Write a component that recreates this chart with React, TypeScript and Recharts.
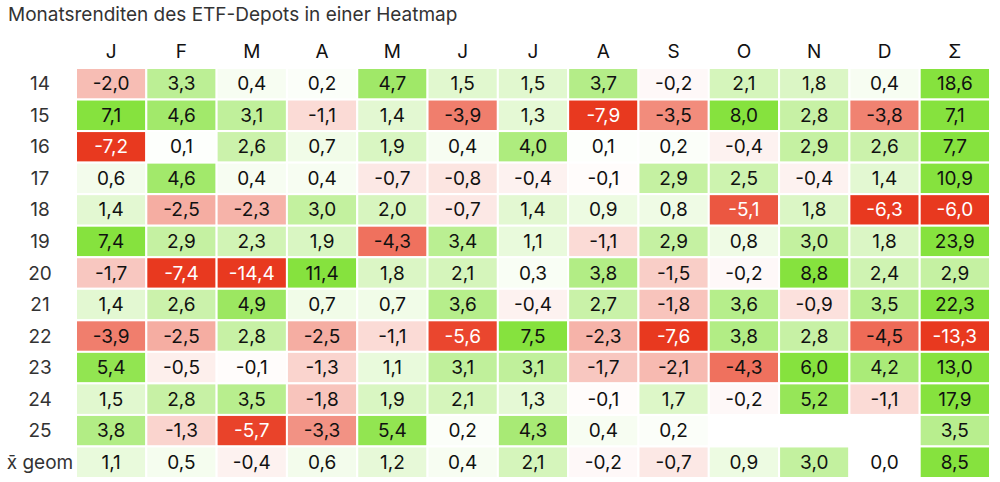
import React from "react";
import { ScatterChart, Scatter, XAxis, YAxis } from "recharts";

// columns (internal keys, shown as initials)
const columns = ["Jan", "Feb", "Mar", "Apr", "Mai", "Jun", "Jul", "Aug", "Sep", "Okt", "Nov", "Dez", "Sum"];
const columnLabels = ["J", "F", "M", "A", "M", "J", "J", "A", "S", "O", "N", "D", "Σ"];
const rows = ["14", "15", "16", "17", "18", "19", "20", "21", "22", "23", "24", "25", "x̄ geom"];

const y14 = [-2.0, 3.3, 0.4, 0.2, 4.7, 1.5, 1.5, 3.7, -0.2, 2.1, 1.8, 0.4, 18.6];
const y15 = [7.1, 4.6, 3.1, -1.1, 1.4, -3.9, 1.3, -7.9, -3.5, 8.0, 2.8, -3.8, 7.1];
const y16 = [-7.2, 0.1, 2.6, 0.7, 1.9, 0.4, 4.0, 0.1, 0.2, -0.4, 2.9, 2.6, 7.7];
const y17 = [0.6, 4.6, 0.4, 0.4, -0.7, -0.8, -0.4, -0.1, 2.9, 2.5, -0.4, 1.4, 10.9];
const y18 = [1.4, -2.5, -2.3, 3.0, 2.0, -0.7, 1.4, 0.9, 0.8, -5.1, 1.8, -6.3, -6.0];
const y19 = [7.4, 2.9, 2.3, 1.9, -4.3, 3.4, 1.1, -1.1, 2.9, 0.8, 3.0, 1.8, 23.9];
const y20 = [-1.7, -7.4, -14.4, 11.4, 1.8, 2.1, 0.3, 3.8, -1.5, -0.2, 8.8, 2.4, 2.9];
const y21 = [1.4, 2.6, 4.9, 0.7, 0.7, 3.6, -0.4, 2.7, -1.8, 3.6, -0.9, 3.5, 22.3];
const y22 = [-3.9, -2.5, 2.8, -2.5, -1.1, -5.6, 7.5, -2.3, -7.6, 3.8, 2.8, -4.5, -13.3];
const y23 = [5.4, -0.5, -0.1, -1.3, 1.1, 3.1, 3.1, -1.7, -2.1, -4.3, 6.0, 4.2, 13.0];
const y24 = [1.5, 2.8, 3.5, -1.8, 1.9, 2.1, 1.3, -0.1, 1.7, -0.2, 5.2, -1.1, 17.9];
const y25 = [3.8, -1.3, -5.7, -3.3, 5.4, 0.2, 4.3, 0.4, 0.2, null, null, null, 3.5];
const geom = [1.1, 0.5, -0.4, 0.6, 1.2, 0.4, 2.1, -0.2, -0.7, 0.9, 3.0, 0.0, 8.5];

const rowValues = [y14, y15, y16, y17, y18, y19, y20, y21, y22, y23, y24, y25, geom];

const cells = rows.flatMap((row, r) =>
  columns.map((col, c) => ({ col, row, v: rowValues[r][c] }))
).filter((d) => d.v !== null);

const W = 1000;
const H = 482;
const M = { top: 38, right: 10, bottom: 4, left: 0 };
const X_AXIS_H = 30;
const Y_AXIS_W = 76;
const CELL_W = (W - M.left - M.right - Y_AXIS_W) / columns.length;
const CELL_H = (H - M.top - M.bottom - X_AXIS_H) / rows.length;

const FONT = "Inter, 'Noto Sans', sans-serif";

const GREEN = [134, 226, 62];
const RED = [232, 57, 31];

function cellColor(v: number) {
  const t = Math.min(Math.abs(v) / 6, 1);
  const target = v >= 0 ? GREEN : RED;
  const ch = target.map((c) => Math.round(255 - t * (255 - c)));
  return `rgb(${ch[0]},${ch[1]},${ch[2]})`;
}

const fmt = (v: number) => v.toFixed(1).replace(".", ",");

const CellShape = (props: any) => {
  const { cx, cy, payload } = props;
  const v = payload.v as number;
  return (
    <g>
      <rect
        x={cx - CELL_W / 2}
        y={cy - CELL_H / 2}
        width={CELL_W}
        height={CELL_H}
        fill={cellColor(v)}
        stroke="#ffffff"
        strokeWidth={2}
      />
      <text
        x={cx}
        y={cy}
        textAnchor="middle"
        dominantBaseline="central"
        fontSize={19}
        fontFamily={FONT}
        fill={v <= -5 ? "#ffffff" : "#111111"}
      >
        {fmt(v)}
      </text>
    </g>
  );
};

const ColTick = (props: any) => {
  const { x, y, payload, index } = props;
  return (
    <text x={x} y={y - 2} textAnchor="middle" fontSize={19} fontFamily={FONT} fill="#111">
      {columnLabels[index] ?? payload.value}
    </text>
  );
};

const RowTick = (props: any) => {
  const { x, y, payload } = props;
  return (
    <text
      x={x - 28}
      y={y}
      textAnchor="middle"
      dominantBaseline="central"
      fontSize={19}
      fontFamily={FONT}
      fill="#333"
    >
      {payload.value}
    </text>
  );
};

export default function App() {
  return (
    <div style={{ position: "absolute", left: 0, top: 0, width: W, height: H, background: "#fff" }}>
      <div
        style={{
          position: "absolute",
          left: 8,
          top: 3,
          fontFamily: FONT,
          fontSize: 19,
          color: "#333",
        }}
      >
        Monatsrenditen des ETF-Depots in einer Heatmap
      </div>
      <ScatterChart width={W} height={H} margin={M}>
        <XAxis
          dataKey="col"
          type="category"
          allowDuplicatedCategory={false}
          orientation="top"
          height={X_AXIS_H}
          axisLine={false}
          tickLine={false}
          tick={<ColTick />}
          interval={0}
        />
        <YAxis
          dataKey="row"
          type="category"
          allowDuplicatedCategory={false}
          width={Y_AXIS_W}
          axisLine={false}
          tickLine={false}
          tick={<RowTick />}
          interval={0}
          reversed
        />
        <Scatter data={cells} shape={<CellShape />} isAnimationActive={false} />
      </ScatterChart>
    </div>
  );
}
